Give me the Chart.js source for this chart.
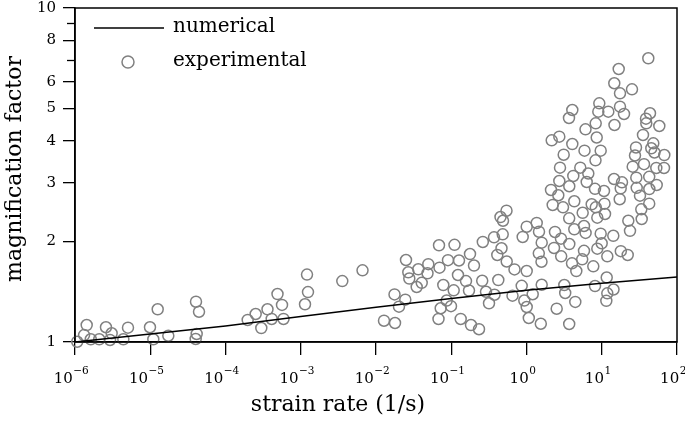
<!DOCTYPE html>
<html><head><meta charset="utf-8">
<script src="https://cdn.jsdelivr.net/npm/chart.js@4"></script>
<style>html,body{margin:0;padding:0;background:#fff}#wrap{width:685px;height:421px}</style>
</head><body><div id="wrap"><canvas id="c" width="685" height="421"></canvas></div>
<script>
const experimentalRate = [
1.07e-6,1.32e-6,1.43e-6,1.62e-6,2.1e-6,2.58e-6,2.92e-6,3.07e-6,4.39e-6,5.06e-6,
9.92e-6,1.098e-5,1.256e-5,1.738e-5,4.055e-5,4.446e-5,4.14e-5,4.018e-5,
1.972e-4,2.518e-4,2.99e-4,3.614e-4,4.11e-4,4.91e-4,5.636e-4,5.9e-4,
1.139e-3,1.248e-3,1.211e-3,3.565e-3,6.62e-3,
0.01277,0.01789,0.01762,0.0202,0.02451,0.02504,0.02687,0.0277,0.03474,0.03648,0.0405,0.04955,0.04835,
0.06877,0.0698,0.0784,0.0677,0.0724,0.087,0.0992,0.0905,
0.1105,0.1268,0.1229,0.1078,0.1335,0.157,0.1775,0.2006,0.1721,0.183,0.2338,
0.2627,0.2579,0.2896,0.3175,0.3757,0.37,0.4219,0.4093,0.4654,0.4828,0.4514,0.4872,0.5424,0.5458,0.6516,0.6925,
0.8634,0.935,1.006,1.006,0.89,1.006,1.073,1.209,1.367,1.466,1.592,1.457,1.582,1.592,1.549,
2.392,2.873,2.32,2.891,3.704,2.519,3.18,3.268,3.693,4.024,4.59,4.45,5.808,5.498,7.72,8.73,8.135,
4.317,5.808,6.10,3.693,5.58,2.229,3.055,4.317,2.117,2.646,2.729,3.704,4.187,2.788,5.187,6.627,6.31,8.135,
7.35,8.336,8.73,9.68,9.98,3.121,5.90,8.26,4.062,2.162,2.729,6.083,8.31,3.67,4.062,9.0,9.28,8.57,9.68,
10.71,10.88,11.05,11.85,11.64,11.85,11.5,14.33,14.24,14.55,14.77,14.68,16.8,17.48,17.48,19.76,12.22,
17.92,22.13,22.54,23.74,18.58,17.86,17.32,25.23,28.52,27.66,25.78,28.78,29.14,32.23,33.54,33.96,
42.73,42.73,42.86,53.73,36.43,53.08,67.18,35.33,48.42,45.55,50.23,67.8,43.78,38.73,39.08,58.19,41.56
];
const experimentalFactor = [
1.002,1.049,1.124,1.019,1.019,1.107,1.014,1.062,1.019,1.104,
1.107,1.019,1.253,1.044,1.32,1.232,1.057,1.021,
1.164,1.213,1.101,1.253,1.172,1.392,1.291,1.172,
1.297,1.411,1.592,1.522,1.639,
1.158,1.14,1.388,1.276,1.339,1.76,1.617,1.549,1.461,1.651,1.504,1.71,1.606,
1.948,1.669,1.481,1.172,1.262,1.331,1.28,1.758,
1.954,1.754,1.587,1.428,1.172,1.522,1.834,1.694,1.426,1.124,1.092,
1.993,1.525,1.414,1.306,1.385,2.058,1.533,1.822,1.908,2.101,2.367,2.307,2.472,1.742,1.376,1.649,
1.473,1.331,1.273,1.631,2.063,2.214,1.18,1.39,2.272,2.139,1.983,1.843,1.739,1.484,1.134,
2.135,2.039,1.912,1.805,1.965,1.258,1.481,1.402,1.132,1.72,1.631,1.318,1.875,1.768,1.685,1.903,1.471,
2.175,2.225,2.121,2.346,2.437,2.572,2.531,2.638,2.852,2.75,3.034,2.926,3.141,3.326,3.326,3.195,3.013,2.875,
2.584,2.531,2.356,2.11,1.975,3.637,3.739,3.499,3.915,4.017,4.118,4.333,4.516,4.684,4.95,4.893,5.184,4.095,3.739,
2.832,2.595,2.417,1.805,1.56,1.399,1.328,1.436,2.08,3.076,4.464,5.953,6.567,5.554,5.064,4.816,4.893,
1.87,1.822,2.307,2.152,3.007,2.885,2.676,5.709,3.823,3.617,3.349,3.104,2.895,2.742,2.496,2.335,
2.595,3.123,2.871,2.952,3.407,3.319,3.319,4.167,3.934,3.802,3.693,3.629,4.84,4.662,4.516,4.433,7.07
];
const numericalRate = [1e-6,1e-5,1e-4,1e-3,1e-2,1e-1,1,10,100];
const numericalFactor = [1.0,1.057,1.117,1.192,1.270,1.350,1.428,1.499,1.565];
const xTickValues = [1e-6,1e-5,1e-4,1e-3,1e-2,1e-1,1,10,100];
const xTickBase = '10';
const xTickExponents = ['-6','-5','-4','-3','-2','-1','0','1','2'];
const yTickValues = [1,2,3,4,5,6,7,8,9,10];
const yTickLabels = ['1','2','3','4','5','6','','8','','10'];
const seriesLabels = ['numerical','experimental'];
const axisTitles = { x: 'strain rate (1/s)', y: 'magnification factor' };

const FONT = "'DejaVu Serif', serif";

const framePlugin = {
  id: 'frame',
  afterDraw(chart) {
    const ctx = chart.ctx, ca = chart.chartArea;
    const ys = chart.scales.y, xs = chart.scales.x;
    ctx.save();
    ctx.strokeStyle = '#000';
    ctx.lineWidth = 1.5;
    ctx.strokeRect(ca.left, ca.top, ca.right - ca.left, ca.bottom - ca.top);
    // minor ticks (unlabelled)
    ctx.lineWidth = 1.3;
    yTickValues.forEach((v, i) => {
      if (yTickLabels[i] === '') {
        const p = Math.round(ys.getPixelForValue(v)) + 0.5;
        ctx.beginPath(); ctx.moveTo(ca.left - 8, p); ctx.lineTo(ca.left, p); ctx.stroke();
      }
    });
    // x tick labels with superscript exponents
    ctx.fillStyle = '#000';
    ctx.textBaseline = 'alphabetic';
    ctx.textAlign = 'left';
    xTickValues.forEach((v, i) => {
      const px = xs.getPixelForValue(v);
      ctx.font = '15px ' + FONT;
      const bw = ctx.measureText(xTickBase).width;
      const exp = xTickExponents[i].replace('-', '\u2212');
      ctx.font = '10.5px ' + FONT;
      const ew = ctx.measureText(exp).width;
      const x0 = px - (bw + ew) / 2 - 4;
      ctx.font = '15px ' + FONT;
      ctx.fillText(xTickBase, x0, 383);
      ctx.font = '10.5px ' + FONT;
      ctx.fillText(exp, x0 + bw + 0.5, 374);
    });
    // axis titles
    ctx.textBaseline = 'middle';
    ctx.textAlign = 'center';
    ctx.font = '22px ' + FONT;
    ctx.fillText(axisTitles.x, 338, 405);
    ctx.save();
    ctx.translate(15, 169);
    ctx.rotate(-Math.PI / 2);
    ctx.fillText(axisTitles.y, 0, 0);
    ctx.restore();
    // legend
    const ds = chart.data.datasets;
    ctx.font = '20px ' + FONT;
    ctx.textAlign = 'left';
    ctx.strokeStyle = '#000';
    ctx.lineWidth = 1.5;
    ctx.beginPath(); ctx.moveTo(ca.left + 19, ca.top + 20); ctx.lineTo(ca.left + 89, ca.top + 20); ctx.stroke();
    ctx.fillText(ds[0].label, ca.left + 98, ca.top + 19);
    ctx.strokeStyle = '#808080';
    ctx.beginPath(); ctx.arc(ca.left + 53, ca.top + 54, 6, 0, Math.PI * 2); ctx.stroke();
    ctx.fillText(ds[1].label, ca.left + 98, ca.top + 53);
    ctx.restore();
  }
};

new Chart(document.getElementById('c'), {
  type: 'scatter',
  data: {
    datasets: [
      {
        label: seriesLabels[0],
        type: 'line',
        data: numericalRate.map((x, i) => ({x, y: numericalFactor[i]})),
        borderColor: '#000',
        borderWidth: 1.5,
        pointRadius: 0,
        fill: false,
        tension: 0
      },
      {
        label: seriesLabels[1],
        data: experimentalRate.map((x, i) => ({x, y: experimentalFactor[i]})),
        pointStyle: 'circle',
        pointRadius: 5.5,
        borderWidth: 1.5,
        borderColor: '#808080',
        backgroundColor: 'rgba(0,0,0,0)',
        clip: false
      }
    ]
  },
  options: {
    responsive: false,
    devicePixelRatio: 1,
    animation: false,
    layout: { padding: { top: 8, right: 8, left: 0, bottom: 0 } },
    plugins: { legend: { display: false }, tooltip: { enabled: false } },
    scales: {
      x: {
        type: 'logarithmic',
        min: 1e-6, max: 1e2,
        afterBuildTicks: s => { s.ticks = xTickValues.map(v => ({value: v})); },
        afterFit: s => { s.height = 79; s.paddingLeft = 0; s.paddingRight = 0; },
        ticks: { display: false, autoSkip: false },
        grid: { display: true, drawOnChartArea: false, drawTicks: true, tickLength: 13, color: '#000', lineWidth: 1.3 },
        border: { display: true, color: '#000', width: 1.5 },
        title: { display: false }
      },
      y: {
        type: 'logarithmic',
        min: 1, max: 10,
        afterBuildTicks: s => { s.ticks = yTickValues.map(v => ({value: v})); },
        afterFit: s => { s.width = 75; s.paddingTop = 0; s.paddingBottom = 0; },
        ticks: {
          callback: (v, i) => yTickLabels[i],
          font: { family: FONT, size: 15 },
          color: '#000', autoSkip: false, padding: 7
        },
        grid: {
          display: true, drawOnChartArea: false, drawTicks: true, tickLength: 12, color: '#000', lineWidth: 1.3,
          tickColor: c => (c.tick && yTickLabels[yTickValues.indexOf(c.tick.value)] === '') ? 'rgba(0,0,0,0)' : '#000'
        },
        border: { display: true, color: '#000', width: 1.5 },
        title: { display: false }
      }
    }
  },
  plugins: [framePlugin]
});
</script>
</body></html>
